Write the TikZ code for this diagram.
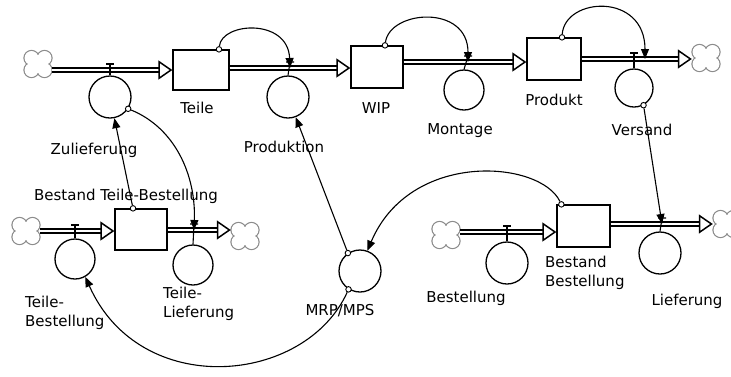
\documentclass[tikz,border=0pt]{standalone}
\usepackage{fontspec}
\setmainfont{DejaVu Sans}
\usetikzlibrary{arrows.meta,calc}

% a source or sink: a named placeholder with a four-lobed cloud drawn on it
\newcommand\srcsink[2]{%
  \node[srcbox] (#1) at (#2) {};
  \foreach \dx/\dy in {-6.5/-6, 6.5/-6, -6.5/6, 6.5/6}
    \draw[cloudline] ($(#1)+(\dx,\dy)$) circle (7.5pt);
  \foreach \dx/\dy in {-6.5/-6, 6.5/-6, -6.5/6, 6.5/6}
    \fill[white] ($(#1)+(\dx,\dy)$) circle (6.9pt);
  \fill[white] (#1) circle (4.5pt);
}

\begin{document}
\begin{tikzpicture}[x=1pt,y=-1pt,
  stock/.style={draw, line width=1.3pt, fill=white, inner sep=0, minimum width=54pt, minimum height=42pt},
  flowc/.style={circle, draw, line width=1.3pt, fill=white, inner sep=0, minimum size=42pt},
  srcbox/.style={rectangle, inner sep=0, minimum width=28pt, minimum height=27pt},
  cloudline/.style={draw=black!45, line width=1.3pt},
  lbl/.style={font=\fontsize{15}{19.5}\selectfont, inner sep=0, align=left},
  pipe/.style={draw, double=white, double distance=2.8pt, line width=1.5pt, -{Triangle[open, length=14pt, width=19pt, line width=1.5pt]}},
  link/.style={draw, line width=1.1pt, -{Triangle[length=10pt, width=8pt]}},
  tap/.style={circle, draw, fill=white, line width=0.9pt, inner sep=0, minimum size=5.5pt},
  valvebar/.style={draw, line width=1.1pt},
]
\useasboundingbox (0,0) rectangle (731,376);

% stocks
\node[stock, minimum width=56pt, minimum height=40pt] (teile) at (201,70) {};
\node[stock, minimum width=52pt] (wip) at (377,67) {};
\node[stock] (produkt) at (554,59) {};
\node[stock, minimum width=52pt, minimum height=41pt] (btb) at (141,229.5) {};
\node[stock, minimum width=53pt] (bb) at (583.5,226) {};

% valve points on the pipes
\coordinate (zulV) at (110,70);
\coordinate (prodV) at (290,68);
\coordinate (montV) at (468,62);
\coordinate (versV) at (634,59);
\coordinate (tbV) at (75,231);
\coordinate (tlV) at (194,230);
\coordinate (bestV) at (507,232);
\coordinate (liefV) at (662,224);

% flow converters
\node[flowc] (zul) at (110,97) {};
\node[flowc] (prodn) at (288,97) {};
\node[flowc, minimum size=40pt] (mont) at (464,90) {};
\node[flowc, minimum size=38pt] (vers) at (634,88) {};
\node[flowc, minimum size=40pt] (tb) at (75,259) {};
\node[flowc, minimum size=40pt] (tl) at (193,265) {};
\node[flowc] (best) at (507,263) {};
\node[flowc] (lief) at (660,253) {};
\node[flowc] (mrp) at (360,271) {};

% sources and sinks
\srcsink{cA}{38,64}
\srcsink{cB}{706,58}
\srcsink{cC}{26,231}
\srcsink{cD}{245,236}
\srcsink{cE}{446,235}
\srcsink{cF}{727,224}

% material pipes
\draw[pipe] (cA.east |- zulV) -- (teile.west |- zulV);
\draw[pipe] (teile.east |- prodV) -- (wip.west |- prodV);
\draw[pipe] (wip.east |- montV) -- (produkt.west |- montV);
\draw[pipe] (produkt.east |- versV) -- (cB.west |- versV);
\draw[pipe] (cC.east |- tbV) -- (btb.west |- tbV);
\draw[pipe] (btb.east |- tlV) -- (cD.west |- tlV);
\draw[pipe] (cE.east |- bestV) -- (bb.west |- bestV);
\draw[pipe] (bb.east |- liefV) -- (cF.west |- liefV);

% valves
\foreach \v/\c in {zulV/zul, prodV/prodn, montV/mont, versV/vers, tbV/tb, tlV/tl, bestV/best, liefV/lief}
  \draw[valvebar] ($(\v)+(-4,-6)$) -- ($(\v)+(4,-6)$) ($(\v)+(0,-6)$) -- (\c.north);

% connector origins
\node[tap] (tBtb) at ([xshift=-8pt]btb.north) {};
\node[tap] (tZul) at (zul.-33) {};
\node[tap] (tTeile) at ([xshift=18pt]teile.north) {};
\node[tap] (tWip) at ([xshift=8pt]wip.north) {};
\node[tap] (tProd) at ([xshift=8pt]produkt.north) {};
\node[tap] (tVers) at (vers.-61) {};
\node[tap] (tMrpA) at (mrp.124) {};
\node[tap] (tMrpB) at (mrp.238) {};
\node[tap] (tBb) at ([xshift=5pt]bb.north west) {};

% information links
\draw[link] (tBtb) -- (zul);
\draw[link] (tZul) .. controls (175,128) and (196,175) .. (tlV);
\draw[link] (tTeile) .. controls (222,22) and (288,18) .. (prodV);
\draw[link] (tWip) .. controls (390,10) and (468,4) .. (montV);
\draw[link] (tProd) .. controls (565,-3) and (645,-8) .. ([xshift=11pt]versV);
\draw[link] (tVers) -- (liefV);
\draw[link] (tMrpA) -- (prodn);
\draw[link] (tBb) .. controls (540,160) and (410,150) .. (mrp.70);
\draw[link] (tMrpB) .. controls (305,385) and (140,400) .. (tb.-60);

% labels
\node[lbl, anchor=base] at (197,113) {Teile};
\node[lbl, anchor=base] at (94,154) {Zulieferung};
\node[lbl, anchor=base] at (284,152) {Produktion};
\node[lbl, anchor=base] at (376,113) {WIP};
\node[lbl, anchor=base] at (460,134) {Montage};
\node[lbl, anchor=base] at (554,105) {Produkt};
\node[lbl, anchor=base] at (642,135) {Versand};
\node[lbl, anchor=base] at (126,200) {Bestand Teile-Bestellung};
\node[lbl, anchor=base west] at (25,326.5) {Teile-\\Bestellung};
\node[lbl, anchor=base west] at (163,317.5) {Teile-\\Lieferung};
\node[lbl, anchor=base] at (340,315) {MRP/MPS};
\node[lbl, anchor=base] at (466,302) {Bestellung};
\node[lbl, anchor=base west] at (545,286.5) {Bestand\\Bestellung};
\node[lbl, anchor=base] at (687,305) {Lieferung};
\end{tikzpicture}
\end{document}
